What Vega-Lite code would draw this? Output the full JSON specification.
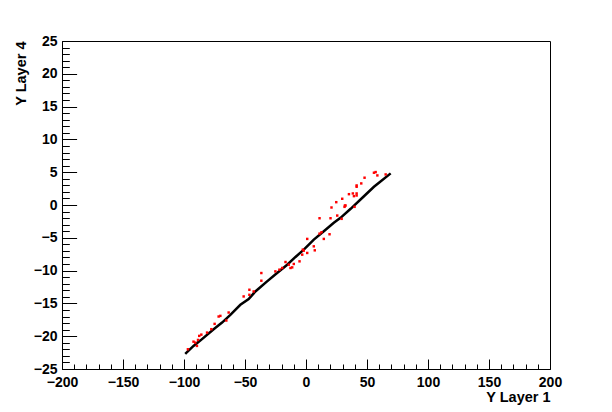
{
  "$schema": "https://vega.github.io/schema/vega-lite/v6.json",
  "width": 488,
  "height": 328,
  "autosize": {"type": "none"},
  "padding": {"left": 62, "top": 41, "right": 62, "bottom": 43},
  "background": "white",
  "config": {
    "view": {"stroke": "black", "strokeWidth": 1},
    "axis": {
      "grid": false,
      "domainColor": "black",
      "domainWidth": 1,
      "tickColor": "black",
      "tickWidth": 1,
      "labelColor": "black",
      "labelFont": "Liberation Sans",
      "labelFontWeight": "bold",
      "labelFontSize": 14,
      "labelFlush": false,
      "labelOverlap": false,
      "labelBound": false,
      "titleColor": "black",
      "titleFont": "Liberation Sans",
      "titleFontWeight": "bold",
      "titleFontSize": 14.5
    }
  },
  "data": {
    "values": [
      {"kind": "trk", "x": -99.0, "y": -22.71},
      {"kind": "trk", "x": -92.2, "y": -21.48},
      {"kind": "trk", "x": -86.7, "y": -20.67},
      {"kind": "trk", "x": -75.7, "y": -18.93},
      {"kind": "trk", "x": -68.8, "y": -17.92},
      {"kind": "trk", "x": -62.0, "y": -16.74},
      {"kind": "trk", "x": -53.8, "y": -15.21},
      {"kind": "trk", "x": -47.0, "y": -14.34},
      {"kind": "trk", "x": -41.5, "y": -13.18},
      {"kind": "trk", "x": -31.9, "y": -11.65},
      {"kind": "trk", "x": -23.7, "y": -10.37},
      {"kind": "trk", "x": -15.4, "y": -9.10},
      {"kind": "trk", "x": -8.6, "y": -7.92},
      {"kind": "trk", "x": -1.8, "y": -6.80},
      {"kind": "trk", "x": 6.4, "y": -5.28},
      {"kind": "trk", "x": 14.6, "y": -4.01},
      {"kind": "trk", "x": 22.8, "y": -2.72},
      {"kind": "trk", "x": 28.3, "y": -1.96},
      {"kind": "trk", "x": 36.6, "y": -0.58},
      {"kind": "trk", "x": 46.2, "y": 1.10},
      {"kind": "trk", "x": 55.7, "y": 2.78},
      {"kind": "trk", "x": 59.8, "y": 3.39},
      {"kind": "trk", "x": 69.4, "y": 4.82},
      {"kind": "hit", "x": -63.4, "y": -16.39},
      {"kind": "hit", "x": -71.6, "y": -17.00},
      {"kind": "hit", "x": -70.2, "y": -16.90},
      {"kind": "hit", "x": -65.3, "y": -17.61},
      {"kind": "hit", "x": -74.9, "y": -18.12},
      {"kind": "hit", "x": -77.6, "y": -18.93},
      {"kind": "hit", "x": -81.1, "y": -19.45},
      {"kind": "hit", "x": -85.8, "y": -19.76},
      {"kind": "hit", "x": -87.5, "y": -19.95},
      {"kind": "hit", "x": -92.2, "y": -20.83},
      {"kind": "hit", "x": -90.8, "y": -20.98},
      {"kind": "hit", "x": -88.5, "y": -20.57},
      {"kind": "hit", "x": -89.4, "y": -21.48},
      {"kind": "hit", "x": -96.8, "y": -21.99},
      {"kind": "hit", "x": -1.8, "y": -6.96},
      {"kind": "hit", "x": -5.3, "y": -8.59},
      {"kind": "hit", "x": -10.0, "y": -8.99},
      {"kind": "hit", "x": -11.3, "y": -9.51},
      {"kind": "hit", "x": -12.7, "y": -9.60},
      {"kind": "hit", "x": -14.1, "y": -9.10},
      {"kind": "hit", "x": -16.8, "y": -8.69},
      {"kind": "hit", "x": -19.5, "y": -9.60},
      {"kind": "hit", "x": -21.8, "y": -9.86},
      {"kind": "hit", "x": -25.1, "y": -10.12},
      {"kind": "hit", "x": -36.6, "y": -10.37},
      {"kind": "hit", "x": -36.6, "y": -11.54},
      {"kind": "hit", "x": -46.4, "y": -12.92},
      {"kind": "hit", "x": -42.9, "y": -13.18},
      {"kind": "hit", "x": -51.1, "y": -13.94},
      {"kind": "hit", "x": -46.4, "y": -13.69},
      {"kind": "hit", "x": 24.8, "y": 0.43},
      {"kind": "hit", "x": 31.9, "y": -0.08},
      {"kind": "hit", "x": 20.9, "y": -0.38},
      {"kind": "hit", "x": 25.6, "y": -1.61},
      {"kind": "hit", "x": 11.1, "y": -2.02},
      {"kind": "hit", "x": 20.1, "y": -2.02},
      {"kind": "hit", "x": 29.2, "y": -2.11},
      {"kind": "hit", "x": 12.7, "y": -4.16},
      {"kind": "hit", "x": 11.1, "y": -4.36},
      {"kind": "hit", "x": 19.3, "y": -4.46},
      {"kind": "hit", "x": 14.6, "y": -5.17},
      {"kind": "hit", "x": 1.0, "y": -5.17},
      {"kind": "hit", "x": 6.4, "y": -6.30},
      {"kind": "hit", "x": -2.6, "y": -6.80},
      {"kind": "hit", "x": -3.1, "y": -7.57},
      {"kind": "hit", "x": 1.0, "y": -7.31},
      {"kind": "hit", "x": 7.2, "y": -6.91},
      {"kind": "hit", "x": 55.7, "y": 4.92},
      {"kind": "hit", "x": 57.1, "y": 5.02},
      {"kind": "hit", "x": 65.3, "y": 4.66},
      {"kind": "hit", "x": 58.5, "y": 4.51},
      {"kind": "hit", "x": 48.0, "y": 4.16},
      {"kind": "hit", "x": 41.5, "y": 2.98},
      {"kind": "hit", "x": 41.5, "y": 2.78},
      {"kind": "hit", "x": 45.3, "y": 3.29},
      {"kind": "hit", "x": 35.2, "y": 1.65},
      {"kind": "hit", "x": 38.4, "y": 1.76},
      {"kind": "hit", "x": 41.5, "y": 1.76},
      {"kind": "hit", "x": 41.5, "y": 1.45},
      {"kind": "hit", "x": 39.3, "y": 1.35},
      {"kind": "hit", "x": 29.7, "y": 0.95},
      {"kind": "hit", "x": 32.4, "y": -0.08},
      {"kind": "hit", "x": 31.6, "y": -0.28},
      {"kind": "hit", "x": 39.8, "y": -0.28}
    ]
  },
  "resolve": {"axis": {"x": "independent", "y": "independent"}},
  "layer": [
    {
      "transform": [{"filter": "datum.kind === 'trk'"}],
      "mark": {"type": "line", "color": "black", "strokeWidth": 2.5, "clip": true},
      "encoding": {
        "x": {
          "field": "x",
          "type": "quantitative",
          "scale": {"domain": [-200, 200], "nice": false, "zero": false},
          "axis": {
            "orient": "bottom",
            "values": [-200, -150, -100, -50, 0, 50, 100, 150, 200],
            "tickSize": -10,
            "labelOverlap": false,
            "labelPadding": 16,
            "labelBaseline": "top",
            "title": "Y Layer 1",
            "titleX": 488,
            "titleY": 32,
            "titleAlign": "right",
            "titleAnchor": "end",
            "titleBaseline": "alphabetic"
          }
        },
        "y": {
          "field": "y",
          "type": "quantitative",
          "scale": {"domain": [-25, 25], "nice": false, "zero": false},
          "axis": {
            "orient": "left",
            "values": [-25, -20, -15, -10, -5, 0, 5, 10, 15, 20, 25],
            "tickSize": -14.6,
            "labelOverlap": false,
            "labelPadding": 19.6,
            "labelBaseline": "middle",
            "title": "Y Layer 4",
            "titleX": -36.5,
            "titleY": 0,
            "titleAngle": -90,
            "titleAlign": "right",
            "titleAnchor": "end",
            "titleBaseline": "alphabetic"
          }
        },
        "order": {"field": "x", "type": "quantitative"}
      }
    },
    {
      "transform": [{"filter": "datum.kind === 'hit'"}],
      "mark": {"type": "square", "color": "red", "size": 6, "opacity": 1, "clip": true},
      "encoding": {
        "x": {
          "field": "x",
          "type": "quantitative",
          "axis": {
            "orient": "bottom",
            "values": [-190, -180, -170, -160, -140, -130, -120, -110, -90, -80, -70, -60, -40, -30, -20, -10, 10, 20, 30, 40, 60, 70, 80, 90, 110, 120, 130, 140, 160, 170, 180, 190],
            "tickSize": -5,
            "labels": false,
            "domain": false,
            "title": null
          }
        },
        "y": {
          "field": "y",
          "type": "quantitative",
          "axis": {
            "orient": "left",
            "values": [-24, -23, -22, -21, -19, -18, -17, -16, -14, -13, -12, -11, -9, -8, -7, -6, -4, -3, -2, -1, 1, 2, 3, 4, 6, 7, 8, 9, 11, 12, 13, 14, 16, 17, 18, 19, 21, 22, 23, 24],
            "tickSize": -7.3,
            "labels": false,
            "domain": false,
            "title": null
          }
        }
      }
    }
  ]
}
